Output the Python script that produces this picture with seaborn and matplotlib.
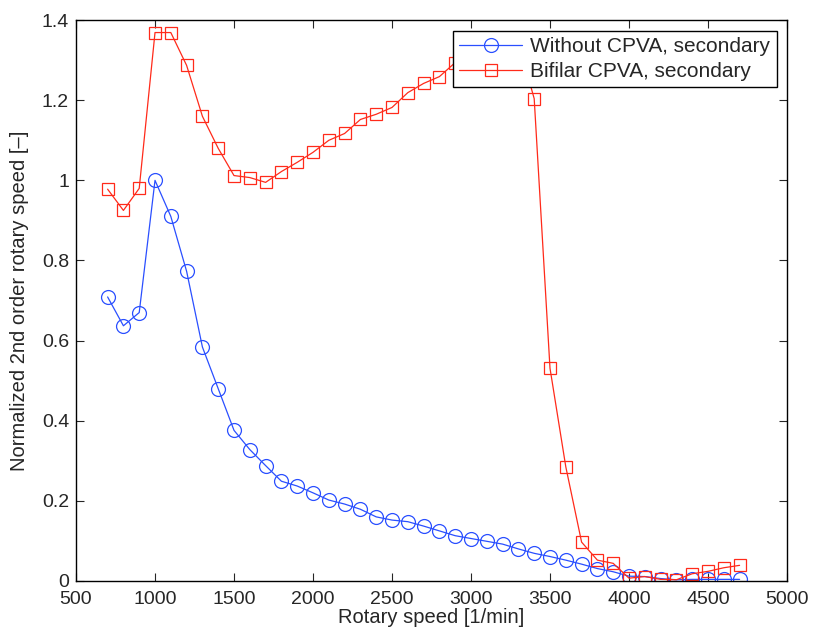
import numpy as np
import pandas as pd
import seaborn as sns
import matplotlib.pyplot as plt

speed = list(range(700, 4800, 100))

without_cpva = [0.709, 0.637, 0.670, 1.000, 0.910, 0.773, 0.584, 0.480, 0.376, 0.328,
                0.288, 0.249, 0.237, 0.220, 0.202, 0.192, 0.179, 0.160, 0.152, 0.148,
                0.137, 0.125, 0.113, 0.106, 0.099, 0.092, 0.080, 0.069, 0.061, 0.052,
                0.042, 0.031, 0.023, 0.012, 0.011, 0.006, 0.003, 0.004, 0.004, 0.004,
                0.004]

bifilar_cpva = [0.978, 0.925, 0.980, 1.369, 1.369, 1.287, 1.160, 1.080, 1.012, 1.007,
                0.995, 1.022, 1.045, 1.070, 1.100, 1.117, 1.152, 1.165, 1.182, 1.219,
                1.242, 1.259, 1.294, 1.310, 1.325, 1.335, 1.345, 1.204, 0.531, 0.285,
                0.097, 0.052, 0.044, 0.007, 0.011, 0.004, 0.003, 0.018, 0.024, 0.033,
                0.039]

labels = ["Without CPVA, secondary", "Bifilar CPVA, secondary"]
colors = ["#2a4fff", "#ff2a1a"]
markers = ["o", "s"]

sns.set_style("ticks")
plt.rcParams['font.family'] = ['Liberation Sans', 'DejaVu Sans']

fig = plt.figure(figsize=(8.13, 6.33), dpi=100)
ax = fig.add_axes([0.0935, 0.0822, 0.8745, 0.886])

for vals, lab, col, mk, ms in zip([without_cpva, bifilar_cpva], labels, colors, markers, [10, 9]):
    df = pd.DataFrame({"speed": speed, "value": vals})
    sns.lineplot(data=df, x="speed", y="value", ax=ax, label=lab, color=col,
                 marker=mk, markersize=ms, markerfacecolor="none",
                 markeredgecolor=col, markeredgewidth=0.9, linewidth=0.9)

ax.set_xlim(500, 5000)
ax.set_ylim(0, 1.4)
ax.set_xticks(np.arange(500, 5001, 500))
ax.set_yticks(np.arange(0, 1.41, 0.2))
ax.set_yticklabels(["0", "0.2", "0.4", "0.6", "0.8", "1", "1.2", "1.4"])
ax.tick_params(direction="in", top=True, right=True, labelsize=14, length=6, width=0.8)
ax.tick_params(axis="x", pad=7)
ax.tick_params(axis="y", pad=5)
for s in ax.spines.values():
    s.set_visible(True)
    s.set_linewidth(1.0)
    s.set_color("black")

ax.set_xlabel("Rotary speed [1/min]", fontsize=14.5, labelpad=0)
ax.set_ylabel("Normalized 2nd order rotary speed [\u2013]", fontsize=14.5, labelpad=9)

leg = ax.legend(loc="upper right", fontsize=15, frameon=True, fancybox=False,
                edgecolor="black", framealpha=1, handlelength=3.0,
                borderaxespad=0.5, borderpad=0.3, labelspacing=0.3, handletextpad=0.4)
leg.get_frame().set_linewidth(1.0)
leg.set_zorder(10)

fig.savefig("out.png", dpi=100)
